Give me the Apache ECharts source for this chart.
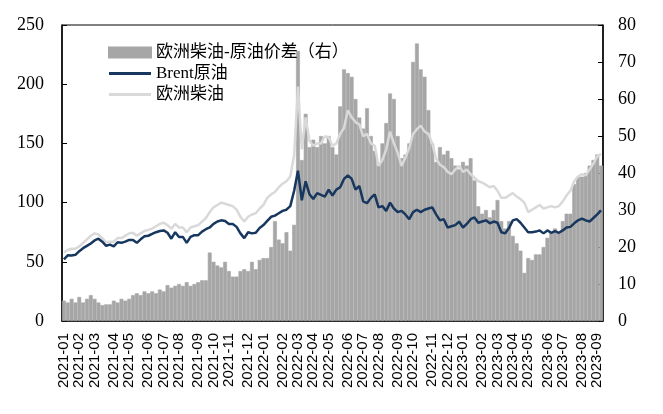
<!DOCTYPE html>
<html>
<head>
<meta charset="utf-8">
<script src="https://cdn.jsdelivr.net/npm/echarts@6/dist/echarts.min.js"></script>
<style>
  html, body { margin: 0; padding: 0; background: #fff; }
  #chart { width: 663px; height: 414px; }
</style>
</head>
<body>
<div id="chart"></div>
<script>
// weekly points, first week starts 2021-01-04
var startDate = [2021, 0, 4];

var brent = [
    52, 55.5, 55.4, 55.9, 59, 61.5, 63.5, 65.5, 68, 69.5,
    67, 63.5, 64.5, 63, 66.5, 66, 67, 68.5, 68.5, 66,
    69, 71.5, 72, 73.5, 75, 76, 76.5, 74.5, 69.5, 75,
    71, 71, 66, 71, 72.5, 72.5, 75.5, 77.5, 79, 82,
    84, 85, 84.5, 82, 82, 79.5, 74, 70, 75, 74,
    74.5, 78.5, 81, 84.5, 88, 89, 91, 93, 94, 97,
    110, 127, 102, 118, 107, 103, 108, 106.5, 105, 111,
    106, 111, 113, 120, 123, 120, 111, 114, 101, 99.5,
    104, 107, 96, 97, 93, 100, 95, 92, 93, 90,
    86, 92, 94, 92, 94, 95, 96, 90, 85, 86,
    79, 80, 81, 84, 79, 82, 86, 87.5, 83, 84,
    85, 82.5, 84, 83, 75, 74, 78.5, 85, 86, 83,
    79, 75, 75, 75.5, 76.5, 74, 76.5, 74.5, 76, 74.5,
    76.5, 79, 79.5, 82.5, 85, 86.5, 85, 84, 87, 90,
    93.5
];

var diesel = [
    58, 60, 61, 61, 63, 66, 69, 72, 74, 73,
    70, 66.5, 67, 67, 70, 70, 72, 74, 74.5, 72,
    74, 76, 77, 78, 80, 82, 83, 81, 78, 82,
    79, 79, 75, 79, 80, 81, 84, 87, 92, 96,
    98, 100, 99, 98, 97, 94, 88, 84, 88, 90,
    91, 95, 98, 104, 107, 109, 113, 116, 118, 122,
    140, 198, 145, 172, 152, 148, 150, 150, 156, 155,
    148, 150, 158, 163, 178, 172, 168, 166, 156, 158,
    150, 148, 131, 136, 145, 160, 150, 142, 131, 138,
    146, 158, 162, 165, 160, 158, 150, 137, 132, 130,
    126, 124, 128, 131, 126, 128, 124, 121, 118, 117,
    115, 113, 114, 110, 104, 104, 106, 108, 105, 103,
    100, 92, 94, 96, 98, 95, 96, 97, 96, 97,
    101, 106, 110, 118, 122, 124, 123, 128, 133, 139,
    141
];

var spread = [
    5.5, 5, 6, 5, 6.5, 5, 6, 7, 6, 5,
    4.3, 4.5, 4.5, 5.5, 5, 6, 5.5, 6, 7, 7.5,
    7, 8, 7.5, 8, 7.5, 8.5, 8, 9.7, 9, 9.5,
    10, 9.5, 10.5, 9.5, 10, 10.5, 11, 11, 18.5, 16,
    15, 14.5, 16, 13.5, 12, 12, 13.5, 14, 13.5, 16,
    14, 16.5, 17, 17, 20, 27, 22, 21, 24, 19,
    26, 73, 43.5, 56, 47, 49, 47, 50, 48, 50,
    47, 45, 58, 68, 67, 66, 60, 55, 52, 57.5,
    50, 46, 42, 48, 53.5, 61.5, 60, 50, 44, 45,
    48, 70, 75, 68, 66, 57, 48, 43, 47, 45,
    46, 44, 42, 41, 43, 42, 44, 38, 31, 29,
    30, 28, 30, 32.7, 27, 25, 27, 23, 21, 19,
    13, 17, 16.5, 18, 18, 20, 22.5, 24, 25, 24,
    27, 29, 29, 37, 39, 39, 40, 42, 43.5, 45,
    42
];

var names = ["欧洲柴油-原油价差（右）", "Brent原油", "欧洲柴油"];

function pad(n) { return n < 10 ? "0" + n : "" + n; }

var dates = [];
for (var i = 0; i < brent.length; i++) {
    var d = new Date(startDate[0], startDate[1], startDate[2] + 7 * i);
    dates.push(d.getFullYear() + "-" + pad(d.getMonth() + 1));
}

function monthStart(idx) {
    return idx === 0 || dates[idx] !== dates[idx - 1];
}

var lineIcon = "path://M0,0 L42,0 L42,3 L0,3 Z";

var chart = echarts.init(document.getElementById("chart"));
chart.setOption({
    animation: false,
    grid: {
        left: 62, right: 60, top: 25, bottom: 93,
        show: true, borderColor: "#000", borderWidth: 1
    },
    legend: {
        orient: "vertical",
        left: 103,
        top: 39,
        itemWidth: 42,
        itemHeight: 10,
        itemGap: 4,
        symbolKeepAspect: true,
        data: [
            { name: names[0], icon: "rect" },
            { name: names[1], icon: lineIcon },
            { name: names[2], icon: lineIcon }
        ],
        textStyle: {
            fontFamily: "'Liberation Serif', 'Noto Sans CJK SC'",
            fontSize: 17,
            color: "#000"
        }
    },
    xAxis: {
        type: "category",
        data: dates,
        boundaryGap: true,
        axisLine: { lineStyle: { color: "#000", width: 1.5 } },
        axisTick: {
            inside: true, length: 5, alignWithLabel: true,
            interval: function (idx) { return monthStart(idx); },
            lineStyle: { color: "#000" }
        },
        axisLabel: {
            rotate: 90,
            interval: function (idx) { return monthStart(idx); },
            showMinLabel: true,
            showMaxLabel: true,
            fontFamily: "'Liberation Sans'",
            fontSize: 15,
            color: "#000",
            margin: 12
        },
        splitLine: { show: false }
    },
    yAxis: [
        {
            type: "value", min: 0, max: 250, interval: 50,
            axisLine: { show: true, lineStyle: { color: "#000", width: 1.5 } },
            axisTick: { show: true, inside: true, length: 5, lineStyle: { color: "#000" } },
            axisLabel: { fontFamily: "'Liberation Serif'", fontSize: 18, color: "#000", margin: 18 },
            splitLine: { show: false }
        },
        {
            type: "value", min: 0, max: 80, interval: 10,
            axisLine: { show: true, lineStyle: { color: "#000", width: 1.5 } },
            axisTick: { show: true, inside: true, length: 5, lineStyle: { color: "#000" } },
            axisLabel: { fontFamily: "'Liberation Serif'", fontSize: 18, color: "#000", margin: 15 },
            splitLine: { show: false }
        }
    ],
    series: [
        {
            name: names[0],
            type: "bar",
            yAxisIndex: 1,
            data: spread,
            barCategoryGap: "0%",
            itemStyle: { color: "#a6a6a6", borderColor: "#a6a6a6", borderWidth: 0.6 }
        },
        {
            name: names[2],
            type: "line",
            data: diesel,
            symbol: "none",
            showSymbol: false,
            lineStyle: { color: "#d9d9d9", width: 2.5 },
            itemStyle: { color: "#d9d9d9" }
        },
        {
            name: names[1],
            type: "line",
            data: brent,
            symbol: "none",
            showSymbol: false,
            lineStyle: { color: "#17375e", width: 2.5 },
            itemStyle: { color: "#17375e" }
        }
    ]
});
</script>
</body>
</html>
